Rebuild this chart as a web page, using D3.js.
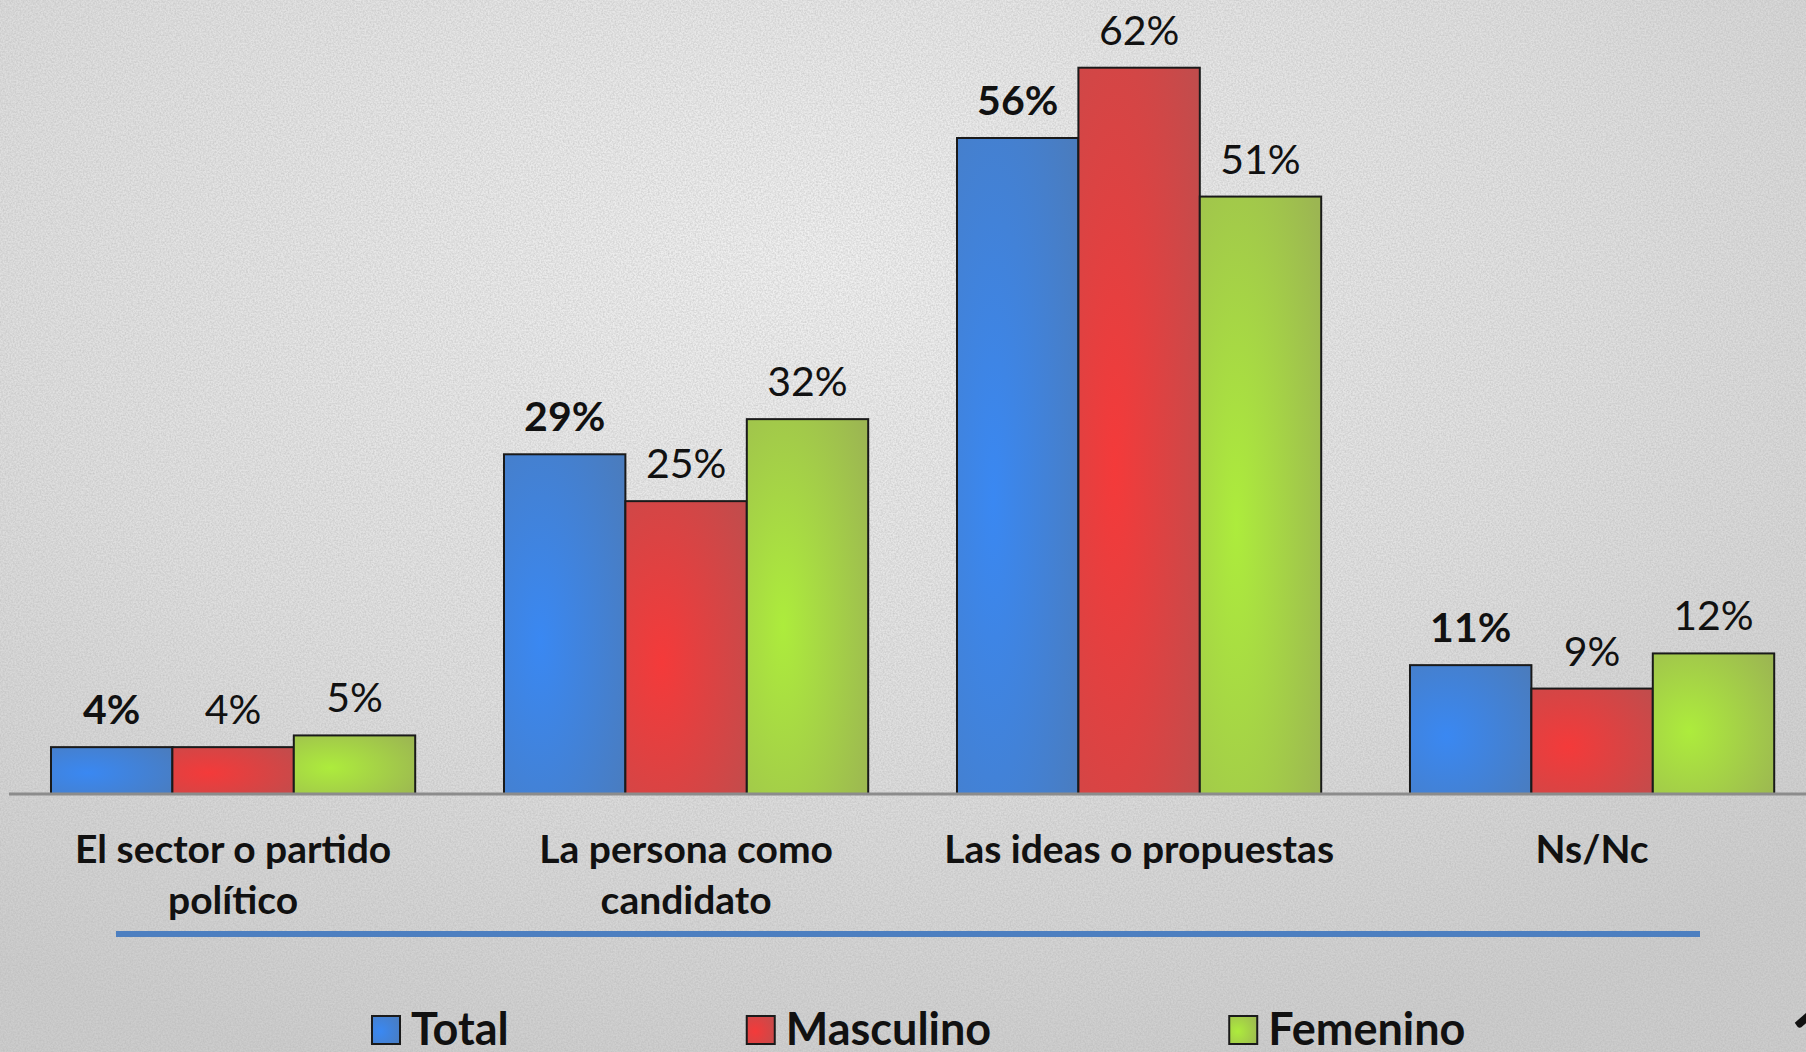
<html>
<head>
<meta charset="utf-8">
<style>
  body { margin: 0; overflow: hidden; }
  svg { display: block; }
</style>
</head>
<body>
<div id="chart"></div>
<script src="https://d3js.org/d3.v7.min.js"></script>
<script>

// data
var categories = ["El sector o partido político", "La persona como candidato", "Las ideas o propuestas", "Ns/Nc"]
var categoryLines = [["El sector o partido", "político"], ["La persona como", "candidato"], ["Las ideas o propuestas"], ["Ns/Nc"]]
var series = ["Total", "Masculino", "Femenino"]
var total = [4, 29, 56, 11]
var masculino = [4, 25, 62, 9]
var femenino = [5, 32, 51, 12]
var values = [total, masculino, femenino]

var colors = {
  Total:     { hi: "#3a88f2", lo: "#4a7cbe" },
  Masculino: { hi: "#f43a3a", lo: "#c24c4c" },
  Femenino:  { hi: "#adec3c", lo: "#9cb652" }
}

var W = 1806, H = 1052
var font = "Lato, 'Open Sans', sans-serif"

var svg = d3.select("#chart")
  .append("svg")
  .attr("width", W)
  .attr("height", H)

var defs = svg.append("defs")

// paper background, light in the upper middle, greyer at the edges
var bg = defs.append("radialGradient").attr("id", "bg")
  .attr("cx", "45%").attr("cy", "25%").attr("r", "80%")
bg.append("stop").attr("offset", "0%").attr("stop-color", "#f1f1f1")
bg.append("stop").attr("offset", "55%").attr("stop-color", "#e0e0e0")
bg.append("stop").attr("offset", "100%").attr("stop-color", "#cdcdcd")

var noise = defs.append("filter").attr("id", "noise")
  .attr("x", 0).attr("y", 0).attr("width", "100%").attr("height", "100%")
noise.append("feTurbulence").attr("type", "fractalNoise")
  .attr("baseFrequency", 0.6).attr("numOctaves", 2).attr("seed", 3).attr("result", "t")
noise.append("feColorMatrix").attr("in", "t").attr("type", "matrix")
  .attr("values", "0 0 0 0 0.45  0 0 0 0 0.45  0 0 0 0 0.45  0 0 0 1.4 -0.4")

svg.append("rect").attr("width", W).attr("height", H).attr("fill", "url(#bg)")
svg.append("rect").attr("width", W).attr("height", H).attr("filter", "url(#noise)").attr("opacity", 0.6)

// bar gradients
series.forEach(function(s){
  var g = defs.append("radialGradient").attr("id", "grad-" + s)
    .attr("cx", "30%").attr("cy", "55%").attr("r", "85%")
  g.append("stop").attr("offset", "0%").attr("stop-color", colors[s].hi)
  g.append("stop").attr("offset", "100%").attr("stop-color", colors[s].lo)
})

// scales
var x0 = d3.scaleBand()
  .domain(categories)
  .range([6.6, 1818.6])
  .paddingInner(0.196)
  .paddingOuter(0.098)

var x1 = d3.scaleBand()
  .domain(series)
  .range([0, x0.bandwidth()])

var y = d3.scaleLinear()
  .domain([0, 70])
  .range([794, -26])

// bars
var groups = svg.selectAll("g.cat")
  .data(categories)
  .enter().append("g")
  .attr("class", "cat")
  .attr("transform", d => "translate(" + x0(d) + ",0)")

groups.selectAll("rect")
  .data((d, i) => series.map((s, j) => ({ s: s, v: values[j][i] })))
  .enter().append("rect")
  .attr("x", d => x1(d.s))
  .attr("y", d => y(d.v))
  .attr("width", x1.bandwidth())
  .attr("height", d => y(0) - y(d.v))
  .attr("fill", d => "url(#grad-" + d.s + ")")
  .attr("stroke", "#1a1a1a")
  .attr("stroke-width", 2)

groups.selectAll("text.val")
  .data((d, i) => series.map((s, j) => ({ s: s, v: values[j][i] })))
  .enter().append("text")
  .attr("class", "val")
  .attr("x", d => x1(d.s) + x1.bandwidth() / 2)
  .attr("y", d => y(d.v) - 23)
  .attr("text-anchor", "middle")
  .style("font-family", font)
  .style("font-size", "41px")
  .style("font-weight", d => d.s == "Total" ? "bold" : "normal")
  .style("fill", "#111")
  .text(d => d.v + "%")

// axis
var xAxis = d3.axisBottom(x0).tickSize(0).tickSizeOuter(0).tickFormat("")

var ax = svg.append("g")
  .attr("class", "x axis")
  .attr("transform", "translate(0," + y(0) + ")")
  .call(xAxis)

ax.select(".domain").attr("stroke", "#8c8c8c").attr("stroke-width", 3)
  .attr("d", "M9,0H" + W)

ax.selectAll(".tick text").remove()
ax.selectAll(".tick")
  .append("text")
  .attr("text-anchor", "middle")
  .style("font-family", font)
  .style("font-size", "39px")
  .style("font-weight", "bold")
  .style("fill", "#111")
  .each(function(d, i){
    var t = d3.select(this)
    categoryLines[i].forEach(function(line, k){
      t.append("tspan").attr("x", 0).attr("y", 69 + k * 51).text(line)
    })
  })

// blue rule under labels
svg.append("line")
  .attr("x1", 116).attr("x2", 1700)
  .attr("y1", 934).attr("y2", 934)
  .attr("stroke", "#4d7fc0")
  .attr("stroke-width", 6)

// legend
var lx = 372
series.forEach(function(s){
  var g = svg.append("g").attr("transform", "translate(" + lx + ",0)")
  g.append("rect")
    .attr("x", 0).attr("y", 1016)
    .attr("width", 28).attr("height", 28)
    .attr("fill", "url(#grad-" + s + ")")
    .attr("stroke", "#1a1a1a").attr("stroke-width", 2)
  var t = g.append("text")
    .attr("x", 39).attr("y", 1045)
    .style("font-family", font)
    .style("font-size", "45px")
    .style("font-weight", "bold")
    .style("fill", "#111")
    .text(s)
  lx += 39 + t.node().getComputedTextLength() + 238
})

// page number peeking at the corner
svg.append("text")
  .attr("x", 1790).attr("y", 1062)
  .style("font-family", font)
  .style("font-size", "72px")
  .style("font-weight", "bold")
  .style("fill", "#111")
  .text("1")

</script>
</body>
</html>
